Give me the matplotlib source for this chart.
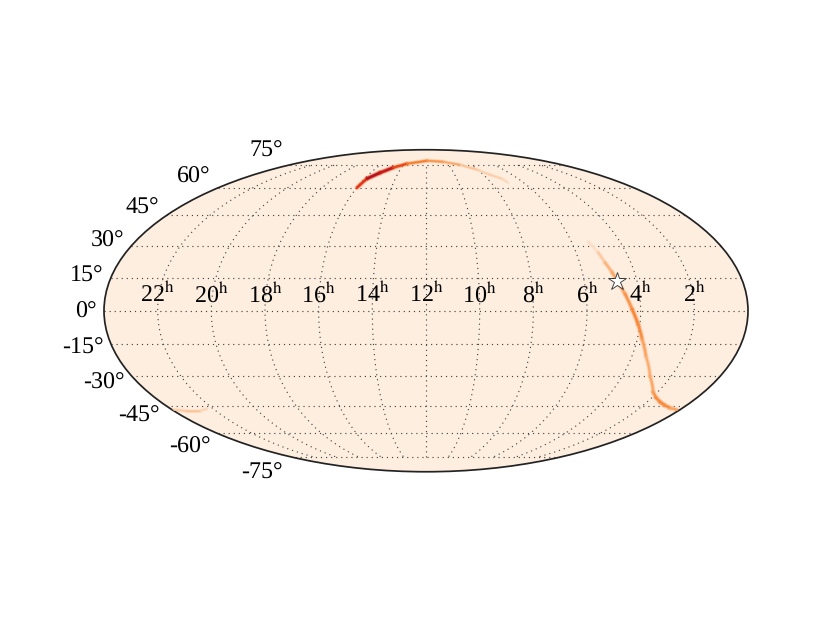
import numpy as np
import matplotlib
matplotlib.use("Agg")
import matplotlib.pyplot as plt
from matplotlib.colors import LinearSegmentedColormap

plt.rcParams["font.family"] = ["Liberation Serif", "DejaVu Serif"]
plt.rcParams["mathtext.fontset"] = "stix"
plt.rcParams["text.hinting"] = "none"
plt.rcParams["text.hinting_factor"] = 1

# sky tracks: right ascension (hours), declination (deg), relative probability
right_ra = [5.31, 5.12, 5.01, 4.86, 4.73, 4.54, 4.32, 4.07, 3.82, 3.46, 2.87, 2.2, 1.84, 1.42, 1.07, 0.59, 0.12]
right_dec = [32.0, 26.8, 22.1, 17.5, 12.9, 7.5, 0.7, -6.1, -12.9, -20.7, -30.1, -37.9, -40.6, -42.9, -44.4, -46.0, -47.0]
right_prob = [0.02, 0.1, 0.18, 0.26, 0.28, 0.31, 0.38, 0.44, 0.32, 0.25, 0.22, 0.3, 0.36, 0.4, 0.4, 0.36, 0.2]

top_ra = [15.99, 15.85, 15.33, 14.68, 13.74, 11.9, 10.33, 8.99, 8.06, 7.54, 7.05, 6.96]
top_dec = [60.2, 65.7, 69.5, 73.0, 75.9, 78.2, 77.4, 75.1, 71.6, 68.2, 65.7, 63.2]
top_prob = [0.55, 0.9, 1.0, 0.78, 0.52, 0.38, 0.32, 0.2, 0.13, 0.1, 0.14, 0.03]

low_ra = [23.97, 23.38, 22.76, 22.3]
low_dec = [-47.0, -47.5, -47.5, -46.5]
low_prob = [0.1, 0.17, 0.15, 0.04]

star_ra = [4.74]
star_dec = [13.6]

ra_ticks = [22, 20, 18, 16, 14, 12, 10, 8, 6, 4, 2]
dec_ticks = [75, 60, 45, 30, 15, 0, -15, -30, -45, -60, -75]

background = "#fdeee0"
cmap = LinearSegmentedColormap.from_list(
    "track", [background, "#fba968", "#f4721e", "#e02a1c", "#a80c22"]
)


def to_lon(ra):
    # 12h sits in the middle, RA grows to the left
    return np.pi - np.asarray(ra) * np.pi / 12


def draw_track(ax, ra, dec, prob, width=1.0):
    lon = to_lon(ra)
    lat = np.radians(dec)
    for i in range(len(lon) - 1):
        p = (prob[i] + prob[i + 1]) / 2
        seg_x, seg_y = lon[i:i + 2], lat[i:i + 2]
        # soft halo under the core
        ax.plot(seg_x, seg_y, color=cmap(p * 0.6), lw=width * (2.4 + 1.5 * p), alpha=0.3,
                solid_capstyle="round", zorder=2)
        ax.plot(seg_x, seg_y, color=cmap(p * 0.85), lw=width * (1.6 + 1.2 * p), alpha=0.5,
                solid_capstyle="round", zorder=2)
        ax.plot(seg_x, seg_y, color=cmap(p), lw=width * (0.8 + 1.0 * p),
                solid_capstyle="round", zorder=3)


fig = plt.figure(figsize=(8, 6), dpi=103.75)
ax = fig.add_axes([104 / 830, 150 / 623, 644 / 830, 323 / 623], projection="mollweide")
ax.set_facecolor(background)

draw_track(ax, right_ra, right_dec, right_prob, width=1.3)
draw_track(ax, top_ra, top_dec, top_prob)
draw_track(ax, low_ra, low_dec, low_prob, width=1.1)

ax.plot(to_lon(star_ra), np.radians(star_dec), marker="*", ms=13, mfc="white",
        mec="#333333", mew=0.6, ls="none", zorder=5)

ax.set_longitude_grid(30)
ax.set_latitude_grid(15)
ax.set_longitude_grid_ends(75)
ax.grid(True, color="#444444", ls=(0, (1, 3.4)), lw=0.8)
ax.set_xticklabels([f"{h}$^{{\\mathrm{{h}}}}$" for h in ra_ticks], fontsize=17)
ax.set_yticklabels([])

for dec in dec_ticks:
    ax.annotate(f"{dec}\N{DEGREE SIGN}", xy=(-np.pi, np.radians(dec)), xycoords="data",
                xytext=(-5, -0.5 + dec * 0.14), textcoords="offset points",
                ha="right", va="center", fontsize=17, annotation_clip=False)

for sp in ax.spines.values():
    sp.set_edgecolor("#222222")
    sp.set_linewidth(1.2)

fig.savefig("out.png", dpi=103.75)
plt.close(fig)
